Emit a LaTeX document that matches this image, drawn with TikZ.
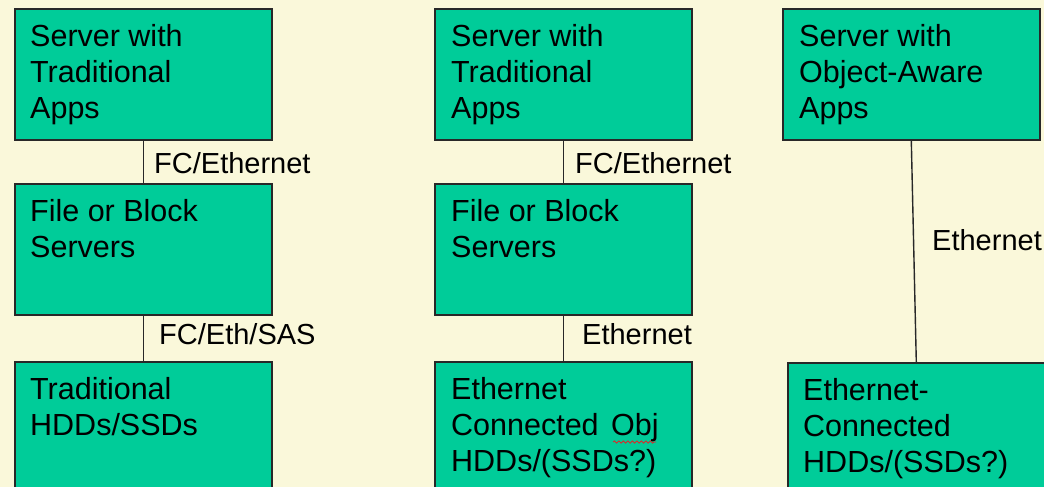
\documentclass[tikz,border=0pt]{standalone}
\usepackage{fontspec}
\setmainfont{Liberation Sans}
\usetikzlibrary{calc,decorations.pathmorphing}

\definecolor{paper}{RGB}{250,248,218}
\definecolor{boxfill}{RGB}{0,204,153}
\definecolor{boxline}{RGB}{40,40,40}
\definecolor{spell}{RGB}{220,40,40}

\tikzset{
  unit/.style={draw=boxline, line width=1.6pt, fill=boxfill, rectangle,
    anchor=north west, inner sep=0pt, minimum width=257pt},
  unithigh/.style={unit, minimum height=131pt},
  unitlow/.style={unit, minimum height=170pt},
  boxtext/.style={anchor=north west, inner sep=0pt, align=left,
    font=\fontsize{30.5}{36}\selectfont},
  linklabel/.style={anchor=base west, inner sep=0pt,
    font=\fontsize{29}{34}\selectfont},
  link/.style={draw=boxline, line width=1.4pt},
  squiggle/.style={draw=spell, line width=0.8pt,
    decorate, decoration={snake, amplitude=1.1pt, segment length=4.5pt}}
}
\newcommand{\firstline}{\rule{0pt}{29pt}}

\begin{document}
\begin{tikzpicture}[x=1pt,y=-1pt]
  \useasboundingbox (0,0) rectangle (1044,487);
  \clip (0,0) rectangle (1044,487);
  \fill[paper] (0,0) rectangle (1044,487);

  % column 1: traditional stack
  \node[unithigh] (srvA) at (14,8) {};
  \node[unithigh] (fsA)  at (14,183) {};
  \node[unitlow]  (hdA)  at (14,361) {};
  % column 2: block servers in front of object drives
  \node[unithigh] (srvB) at (434,8) {};
  \node[unithigh] (fsB)  at (434,183) {};
  \node[unitlow]  (hdB)  at (434,361) {};
  % column 3: object-aware apps talking straight to drives
  \node[unithigh] (srvC) at (782,8) {};
  \node[unitlow]  (hdC)  at (787,362) {};

  % box captions
  \node[boxtext] (tSrvA) at ($(srvA.north west)+(16,9)$) {\firstline Server with\\Traditional\\Apps};
  \node[boxtext] (tFsA)  at ($(fsA.north west)+(16,9)$)  {\firstline File or Block\\Servers};
  \node[boxtext] (tHdA)  at ($(hdA.north west)+(16,9)$)  {\firstline Traditional\\HDDs/SSDs};
  \node[boxtext] (tSrvB) at ($(srvB.north west)+(17,9)$) {\firstline Server with\\Traditional\\Apps};
  \node[boxtext] (tFsB)  at ($(fsB.north west)+(17,9)$)  {\firstline File or Block\\Servers};
  \node[boxtext] (tHdB)  at ($(hdB.north west)+(17,9)$)  {\firstline Ethernet\\Connected\hspace{4pt} Obj\\HDDs/(SSDs?)};
  \node[boxtext] (tSrvC) at ($(srvC.north west)+(17,9)$) {\firstline Server with\\Object-Aware\\Apps};
  \node[boxtext] (tHdC)  at ($(hdC.north west)+(16,9)$)  {\firstline Ethernet-\\Connected\\HDDs/(SSDs?)};

  % spell-check mark under "Obj"
  \draw[squiggle] (613,442) -- (656,442);

  % links
  \draw[link] (srvA.south) -- (fsA.north);
  \draw[link] (fsA.south)  -- (hdA.north);
  \draw[link] (srvB.south) -- (fsB.north);
  \draw[link] (fsB.south)  -- (hdB.north);
  \draw[link] (srvC.south) -- (hdC.north);

  % link labels
  \node[linklabel] (lA1) at (154,173) {FC/Ethernet};
  \node[linklabel] (lA2) at (159,344) {FC/Eth/SAS};
  \node[linklabel] (lB1) at (575,173) {FC/Ethernet};
  \node[linklabel] (lB2) at (582,344) {Ethernet};
  \node[linklabel] (lC1) at (932,250) {Ethernet};
\end{tikzpicture}
\end{document}
